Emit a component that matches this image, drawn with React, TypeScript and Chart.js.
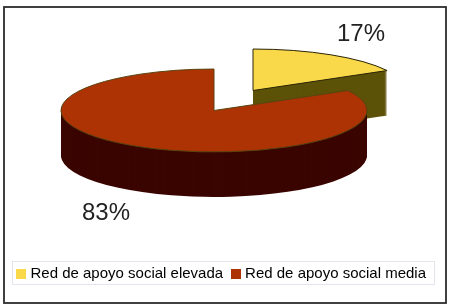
import React, { useEffect, useRef } from "react";
import { Chart, registerables } from "chart.js";

Chart.register(...registerables);

const categories = ["Red de apoyo social elevada", "Red de apoyo social media"];
const values = [17, 83];
const topColors = ["#f9d94a", "#ad3204"];
const sideColors = ["#5c5208", "#3a0500"];
const edgeColors = ["#2a2408", "#5a4410"];
const labelAnchors = [
  { x: 361, y: 34 },
  { x: 106, y: 213 },
];

const FONT = '"Liberation Sans", Arial, sans-serif';
const RADIUS = 153;
const SQUASH = 0.271;
const DEPTH = 45;
const CENTER = { x: 214, y: 110.5 };
const EXPLODE = [
  { x: 39, y: -20 },
  { x: 0, y: 0 },
];
const LEGEND_BOX = { x: 12.5, y: 261.5, w: 422, h: 23 };

const swatch = (color: string) => {
  const c = document.createElement("canvas");
  c.width = 10;
  c.height = 10;
  const g = c.getContext("2d") as CanvasRenderingContext2D;
  g.fillStyle = color;
  g.fillRect(0, 0, 10, 10);
  return c;
};

const pie3d = {
  id: "pie3d",
  beforeDraw(chart: any) {
    const { ctx, width, height } = chart;
    ctx.save();
    ctx.fillStyle = "#ffffff";
    ctx.fillRect(0, 0, width, height);
    ctx.strokeStyle = "#2c2c2c";
    ctx.lineWidth = 1.8;
    ctx.strokeRect(4, 7, 442, 296);
    ctx.strokeStyle = "#e4e4ec";
    ctx.lineWidth = 1;
    ctx.strokeRect(LEGEND_BOX.x, LEGEND_BOX.y, LEGEND_BOX.w, LEGEND_BOX.h);
    ctx.restore();
  },
  beforeDatasetDraw(chart: any) {
    const { ctx } = chart;
    const arcs = chart.getDatasetMeta(0).data;
    const path = (arc: any, i: number, dy: number) => {
      ctx.setTransform(1, 0, 0, SQUASH, CENTER.x + EXPLODE[i].x, CENTER.y + EXPLODE[i].y + dy);
      ctx.beginPath();
      ctx.moveTo(0, 0);
      ctx.arc(0, 0, arc.outerRadius, arc.startAngle, arc.endAngle);
      ctx.closePath();
    };
    ctx.save();
    arcs.forEach((arc: any, i: number) => {
      ctx.fillStyle = sideColors[i];
      for (let dy = DEPTH; dy >= 1; dy--) {
        path(arc, i, dy);
        ctx.fill();
      }
      path(arc, i, 0);
      ctx.fillStyle = topColors[i];
      ctx.fill();
      ctx.setTransform(1, 0, 0, 1, 0, 0);
      ctx.strokeStyle = edgeColors[i];
      ctx.lineWidth = 1;
      ctx.stroke();
    });
    ctx.restore();
    return false;
  },
  afterDraw(chart: any) {
    const { ctx } = chart;
    ctx.save();
    ctx.fillStyle = "#222222";
    ctx.font = `24px ${FONT}`;
    ctx.textAlign = "center";
    ctx.textBaseline = "middle";
    values.forEach((v, i) => ctx.fillText(`${v}%`, labelAnchors[i].x, labelAnchors[i].y));
    ctx.restore();
  },
};

export default function App() {
  const ref = useRef<HTMLCanvasElement | null>(null);
  useEffect(() => {
    const swatches = topColors.map(swatch);
    const chart = new Chart(ref.current as HTMLCanvasElement, {
      type: "pie",
      data: {
        labels: categories,
        datasets: [{ data: values, backgroundColor: topColors, borderWidth: 0 }],
      },
      options: {
        animation: false,
        responsive: false,
        radius: RADIUS,
        layout: { padding: { left: 0, right: 5, top: 10, bottom: 16 } },
        plugins: {
          tooltip: { enabled: false },
          legend: {
            position: "bottom",
            labels: {
              color: "#2a2a2a",
              usePointStyle: true,
              pointStyleWidth: 4,
              boxHeight: 10,
              padding: 10.5,
              font: { family: FONT, size: 15 },
              generateLabels: () =>
                categories.map((text, i) => ({
                  text,
                  pointStyle: swatches[i],
                  fillStyle: topColors[i],
                  strokeStyle: topColors[i],
                  lineWidth: 0,
                  hidden: false,
                  index: i,
                })),
            },
          },
        },
      } as any,
      plugins: [pie3d],
    });
    return () => chart.destroy();
  }, []);
  return (
    <div style={{ position: "absolute", left: 0, top: 0, width: 450, height: 307 }}>
      <canvas ref={ref} width={450} height={307} style={{ display: "block", filter: "blur(0.4px)" }} />
    </div>
  );
}
